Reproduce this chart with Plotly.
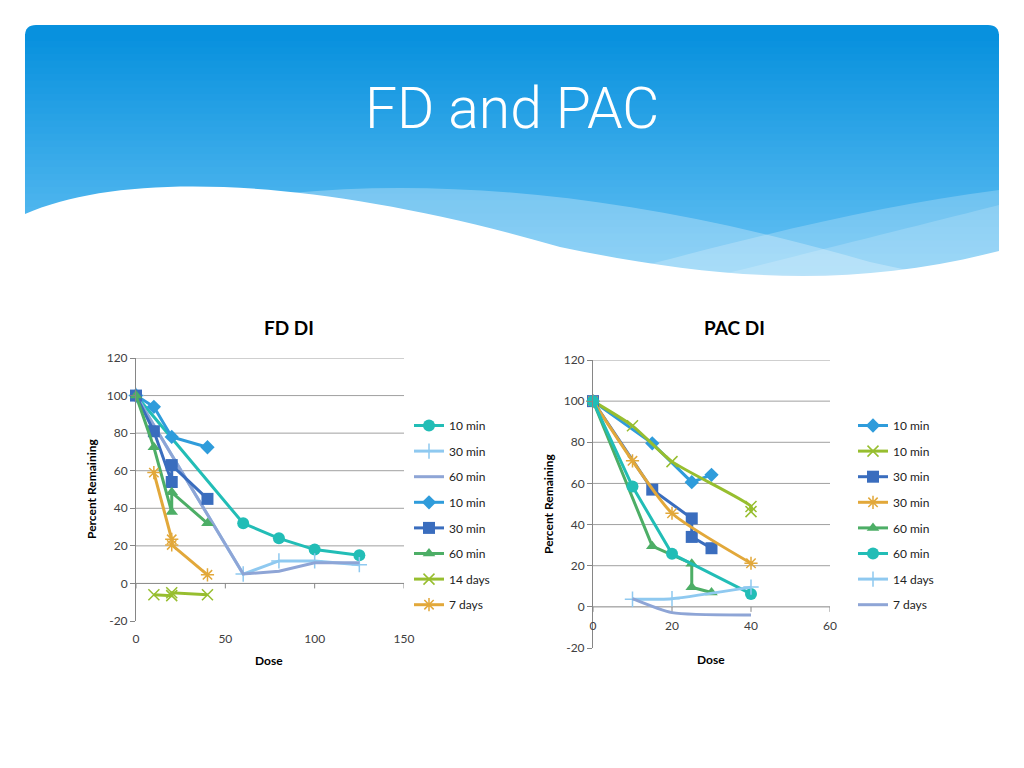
import plotly.graph_objects as go

W, H = 1024, 768

# ---------------- data ----------------
# FD DI chart
fd_teal_10min_x = [0, 60, 80, 100, 125]
fd_teal_10min_y = [100, 32, 24, 18, 15]
fd_lblue_30min_x = [0, 60, 80, 100, 125]
fd_lblue_30min_y = [100, 5, 12, 12, 10]
fd_lav_60min_x = [0, 60, 80, 100, 125]
fd_lav_60min_y = [100, 5, 6.5, 11, 11]
fd_blue_10min_x = [0, 10, 20, 40]
fd_blue_10min_y = [100, 94, 78, 72.5]
fd_dblue_30min_x = [0, 10, 20, 20, 40]
fd_dblue_30min_y = [100, 81, 54, 63, 45]
fd_green_60min_x = [0, 10, 20, 20, 40]
fd_green_60min_y = [100, 72.5, 38, 48.5, 32]
fd_yg_14days_x = [10, 20, 20, 40]
fd_yg_14days_y = [-6, -6.5, -5, -6]
fd_or_7days_x = [10, 20, 20, 40]
fd_or_7days_y = [59, 23.5, 20.5, 4.6]

# PAC DI chart
pac_blue_10min_x = [0, 15, 25, 30]
pac_blue_10min_y = [100, 79.5, 60.6, 64.2]
pac_yg_10min_x = [0, 10, 20, 40, 40]
pac_yg_10min_y = [100, 88, 70.6, 48.8, 46.3]
pac_dblue_30min_x = [0, 15, 25, 25, 30]
pac_dblue_30min_y = [100, 57, 43, 34, 28.5]
pac_or_30min_x = [0, 10, 20, 40]
pac_or_30min_y = [100, 71, 45.5, 21.2]
pac_green_60min_x = [0, 15, 25, 25, 30]
pac_green_60min_y = [100, 29.5, 21, 9.5, 7]
pac_teal_60min_x = [0, 10, 20, 40]
pac_teal_60min_y = [100, 58.5, 25.8, 6.3]
pac_lblue_14days_x = [10, 20, 40]
pac_lblue_14days_y = [3.7, 4, 9.6]
pac_lav_7days_x = [10, 20, 40]
pac_lav_7days_y = [4, -2.8, -3.9]

fd_xticks = [0, 50, 100, 150]
pac_xticks = [0, 20, 40, 60]
yticks = [-20, 0, 20, 40, 60, 80, 100, 120]
ytick_labels = [str(v) for v in yticks]

# ---------------- styles ----------------
TEAL = "#22BDB6"
LBLUE = "#8FC9F0"
LAV = "#8EA5D6"
BLUE = "#2F9CDB"
DBLUE = "#3A6DBE"
GREEN = "#4DAE66"
YG = "#97BE2F"
ORANGE = "#E2A83A"

FONT = "Lato, Open Sans, sans-serif"

fig = go.Figure()


def add(xs, ys, name, color, symbol, size, xa, ya, legend, lw_marker=0, smooth=False, mode="lines+markers"):
    marker = dict(symbol=symbol, size=size, color=color,
                  line=dict(width=lw_marker, color=color))
    line = dict(color=color, width=3)
    if smooth:
        line.update(shape="spline", smoothing=0.6)
    fig.add_trace(go.Scatter(
        x=xs, y=ys, name=name, mode=mode, marker=marker, line=line,
        xaxis=xa, yaxis=ya, legend=legend, legendgroup=legend + name + color,
        cliponaxis=False,
    ))


# FD traces
add(fd_teal_10min_x, fd_teal_10min_y, "10 min", TEAL, "circle", 12, "x", "y", "legend")
add(fd_lblue_30min_x, fd_lblue_30min_y, "30 min", LBLUE, "cross-thin", 11, "x", "y", "legend", lw_marker=1.5)
add(fd_lav_60min_x, fd_lav_60min_y, "60 min", LAV, "circle", 1, "x", "y", "legend", mode="lines")
add(fd_blue_10min_x, fd_blue_10min_y, "10 min", BLUE, "diamond", 11, "x", "y", "legend")
add(fd_dblue_30min_x, fd_dblue_30min_y, "30 min", DBLUE, "square", 12, "x", "y", "legend")
add(fd_green_60min_x, fd_green_60min_y, "60 min", GREEN, "triangle-up", 11, "x", "y", "legend")
add(fd_yg_14days_x, fd_yg_14days_y, "14 days", YG, "x-thin", 11, "x", "y", "legend", lw_marker=1.5)
add(fd_or_7days_x, fd_or_7days_y, "7 days", ORANGE, "asterisk", 11, "x", "y", "legend", lw_marker=1.5)

# PAC traces
add(pac_blue_10min_x, pac_blue_10min_y, "10 min", BLUE, "diamond", 11, "x2", "y2", "legend2")
add(pac_yg_10min_x, pac_yg_10min_y, "10 min", YG, "x-thin", 11, "x2", "y2", "legend2", lw_marker=1.5, smooth=True)
add(pac_dblue_30min_x, pac_dblue_30min_y, "30 min", DBLUE, "square", 12, "x2", "y2", "legend2")
add(pac_or_30min_x, pac_or_30min_y, "30 min", ORANGE, "asterisk", 11, "x2", "y2", "legend2", lw_marker=1.5, smooth=True)
add(pac_green_60min_x, pac_green_60min_y, "60 min", GREEN, "triangle-up", 11, "x2", "y2", "legend2")
add(pac_teal_60min_x, pac_teal_60min_y, "60 min", TEAL, "circle", 12, "x2", "y2", "legend2")
add(pac_lblue_14days_x, pac_lblue_14days_y, "14 days", LBLUE, "cross-thin", 11, "x2", "y2", "legend2", lw_marker=1.5, smooth=True)
add(pac_lav_7days_x, pac_lav_7days_y, "7 days", LAV, "circle", 1, "x2", "y2", "legend2", mode="lines", smooth=True)


def px(x):
    return x / W


def py(y):
    return 1 - y / H


def path(cmds):
    out = []
    for c in cmds:
        if isinstance(c, str):
            out.append(c)
        else:
            out.append(f"{px(c[0]):.5f},{py(c[1]):.5f}")
    return " ".join(out)


shapes = []

# header gradient
top_c = (8, 145, 222)
bot_c = (112, 199, 246)
shapes.append(dict(type="path", xref="paper", yref="paper", layer="below", line=dict(width=0),
                   fillcolor="rgb(%d,%d,%d)" % top_c,
                   path=path(["M", (25, 36), "Q", (25, 25), (36, 25), "L", (988, 25), "Q", (999, 25), (999, 36),
                              "L", (999, 300), "L", (25, 300), "Z"])))
N = 40
y_start, y_end = 34, 300
for i in range(N):
    t = i / (N - 1)
    c = tuple(round(top_c[k] + (bot_c[k] - top_c[k]) * t) for k in range(3))
    ya = y_start + (y_end - y_start) * i / N
    yb = y_start + (y_end - y_start) * (i + 1) / N + 0.8
    shapes.append(dict(type="rect", xref="paper", yref="paper", layer="below", line=dict(width=0),
                       fillcolor="rgb(%d,%d,%d)" % c, x0=px(25), x1=px(999), y0=py(ya), y1=py(yb)))

# light waves
shapes.append(dict(type="path", xref="paper", yref="paper", layer="below", line=dict(width=0),
                   fillcolor="rgba(255,255,255,0.28)",
                   path=path(["M", (290, 193), "C", (450, 178), (640, 195), (870, 262),
                              "L", (999, 290), "L", (999, 320), "L", (290, 320), "Z"])))
shapes.append(dict(type="path", xref="paper", yref="paper", layer="below", line=dict(width=0),
                   fillcolor="rgba(255,255,255,0.22)",
                   path=path(["M", (620, 272), "C", (760, 235), (880, 205), (999, 190),
                              "L", (999, 320), "L", (620, 320), "Z"])))
shapes.append(dict(type="path", xref="paper", yref="paper", layer="below", line=dict(width=0),
                   fillcolor="rgba(255,255,255,0.18)",
                   path=path(["M", (700, 280), "C", (820, 250), (920, 225), (999, 205),
                              "L", (999, 320), "L", (700, 320), "Z"])))
# white wave
shapes.append(dict(type="path", xref="paper", yref="paper", layer="below", line=dict(width=0),
                   fillcolor="white",
                   path=path(["M", (0, 222), "L", (25, 214), "C", (130, 168), (330, 180), (560, 247),
                              "C", (720, 280), (860, 292), (1024, 244),
                              "L", (1024, 330), "L", (0, 330), "Z"])))

GRID = "#A0A0A0"
AXC = "#868686"

# gridlines (no gridline at bottom edge)
for v in yticks:
    if v in (-20, 0):
        continue
    shapes.append(dict(type="line", xref="x domain", yref="y", x0=0, x1=1, y0=v, y1=v,
                       line=dict(color=GRID, width=1), layer="below"))
    shapes.append(dict(type="line", xref="x2 domain", yref="y2", x0=0, x1=1, y0=v, y1=v,
                       line=dict(color=GRID, width=1), layer="below"))
# zero lines
shapes.append(dict(type="line", xref="x domain", yref="y", x0=0, x1=1, y0=0, y1=0,
                   line=dict(color=AXC, width=1), layer="below"))
shapes.append(dict(type="line", xref="x2 domain", yref="y2", x0=0, x1=1, y0=0, y1=0,
                   line=dict(color=AXC, width=1), layer="below"))
# tick marks on zero line
for v in fd_xticks:
    shapes.append(dict(type="line", xref="x", yref="y", x0=v, x1=v, y0=0, y1=-5, ysizemode="pixel", yanchor=0,
                       line=dict(color=AXC, width=1), layer="below"))
for v in pac_xticks:
    shapes.append(dict(type="line", xref="x2", yref="y2", x0=v, x1=v, y0=0, y1=-5, ysizemode="pixel", yanchor=0,
                       line=dict(color=AXC, width=1), layer="below"))

# domains
fd_xd = [px(136), px(404)]
fd_yd = [py(621), py(358)]
pac_xd = [px(593), px(830)]
pac_yd = [py(648), py(360)]

tickfont = dict(family=FONT, size=12, color="#404040")

fig.update_layout(
    width=W, height=H,
    margin=dict(l=0, r=0, t=0, b=0, pad=0, autoexpand=False),
    paper_bgcolor="white",
    plot_bgcolor="rgba(0,0,0,0)",
    shapes=shapes,
    xaxis=dict(domain=fd_xd, range=[0, 150], tickvals=fd_xticks, ticks="", showline=False,
               showgrid=False, zeroline=False, tickfont=tickfont, ticklabelstandoff=9, anchor="y",
               automargin=False),
    yaxis=dict(domain=fd_yd, range=[-20, 120], tickvals=yticks, ticktext=ytick_labels,
               ticks="outside", ticklen=5,
               tickcolor=AXC, showline=True, linecolor=AXC, showgrid=False, zeroline=False,
               tickfont=tickfont, anchor="x", automargin=False),
    xaxis2=dict(domain=pac_xd, range=[0, 60], tickvals=pac_xticks, ticks="", showline=False,
                showgrid=False, zeroline=False, tickfont=tickfont, anchor="free",
                position=py(607), ticklabelstandoff=10, automargin=False),
    yaxis2=dict(domain=pac_yd, range=[-20, 120], tickvals=yticks, ticktext=ytick_labels,
                ticks="outside", ticklen=5,
                tickcolor=AXC, showline=True, linecolor=AXC, showgrid=False, zeroline=False,
                tickfont=tickfont, anchor="x2", automargin=False),
    legend=dict(x=px(409), y=py(411), xanchor="left", yanchor="top", traceorder="grouped",
                tracegroupgap=6.6, font=dict(family=FONT, size=12, color="#222222"),
                bgcolor="rgba(0,0,0,0)", itemwidth=30),
    legend2=dict(x=px(853), y=py(411), xanchor="left", yanchor="top", traceorder="grouped",
                 tracegroupgap=6.6, font=dict(family=FONT, size=12, color="#222222"),
                 bgcolor="rgba(0,0,0,0)", itemwidth=30),
    showlegend=True,
)

ann = []
ann.append(dict(text="FD and PAC", x=px(512), y=py(108), xref="paper", yref="paper", showarrow=False,
                xanchor="center", yanchor="middle",
                font=dict(family="Roboto, Open Sans, sans-serif", size=57, color="white", weight=300)))
ann.append(dict(text="<b>FD DI</b>", x=px(289), y=py(327), xref="paper", yref="paper", showarrow=False,
                xanchor="center", yanchor="middle", font=dict(family=FONT, size=19, color="black")))
ann.append(dict(text="<b>PAC DI</b>", x=px(734), y=py(327), xref="paper", yref="paper", showarrow=False,
                xanchor="center", yanchor="middle", font=dict(family=FONT, size=19, color="black")))
ann.append(dict(text="<b>Dose</b>", x=px(269), y=py(660), xref="paper", yref="paper", showarrow=False,
                xanchor="center", yanchor="middle", font=dict(family=FONT, size=12, color="black")))
ann.append(dict(text="<b>Dose</b>", x=px(711), y=py(659), xref="paper", yref="paper", showarrow=False,
                xanchor="center", yanchor="middle", font=dict(family=FONT, size=12, color="black")))
ann.append(dict(text="<b>Percent Remaining</b>", x=px(91), y=py(489), xref="paper", yref="paper",
                showarrow=False, textangle=-90, xanchor="center", yanchor="middle",
                font=dict(family=FONT, size=12, color="black")))
ann.append(dict(text="<b>Percent Remaining</b>", x=px(548), y=py(504), xref="paper", yref="paper",
                showarrow=False, textangle=-90, xanchor="center", yanchor="middle",
                font=dict(family=FONT, size=12, color="black")))
fig.update_layout(annotations=ann)

fig.write_html(
    "out.html",
    config={"displayModeBar": False},
    post_script=(
        "document.documentElement.style.margin='0px';"
        "document.documentElement.style.overflow='hidden';"
        "document.body.style.margin='0px';document.body.style.padding='0px';"
        "document.body.style.overflow='hidden';"
        "var gd=document.getElementById('{plot_id}');"
        "gd.style.position='fixed';gd.style.left='0px';gd.style.top='0px';"
    ),
)
